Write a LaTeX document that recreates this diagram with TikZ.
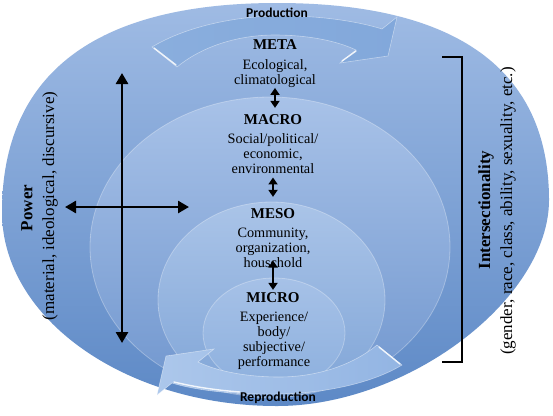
\documentclass[tikz,border=0pt]{standalone}
\usepackage{fontspec}
\setmainfont{Liberation Serif}
\newfontfamily\calib{Carlito}
\usetikzlibrary{arrows.meta}
\definecolor{outtop}{HTML}{9FBBE4}
\definecolor{outbot}{HTML}{5D89C6}
\definecolor{matop}{HTML}{A8C2E8}
\definecolor{mabot}{HTML}{7096CE}
\definecolor{metop}{HTML}{AAC4E8}
\definecolor{mebot}{HTML}{80A5D7}
\definecolor{mitop}{HTML}{A6C1E7}
\definecolor{mibot}{HTML}{8DB0DE}
\definecolor{arlight}{HTML}{B3CCED}
\definecolor{aredge}{HTML}{8AAEDD}
\definecolor{ardark}{HTML}{82A8DB}
\definecolor{rplight}{HTML}{ACC7EB}
\definecolor{rpdark}{HTML}{93B5E3}
\begin{document}
\begin{tikzpicture}[x=1pt,y=-1pt,
  title/.style={font=\fontsize{15}{15}\selectfont\bfseries, inner sep=0pt, anchor=base},
  desc/.style={font=\fontsize{14.3}{15}\selectfont, align=center, inner sep=0pt, anchor=north},
  lvarrow/.style={line width=2.2pt, {Triangle[width=9pt,length=7pt]}-{Triangle[width=9pt,length=7pt]}},
  pwarrow/.style={line width=2.6pt, {Triangle[width=12pt,length=11pt]}-{Triangle[width=12pt,length=11pt]}},
  cyc/.style={font=\calib\bfseries\fontsize{13.5}{14}\selectfont, inner sep=0pt},
  side/.style={font=\fontsize{17}{18}\selectfont, rotate=90, inner sep=0pt},
  sideb/.style={font=\fontsize{17}{18}\selectfont\bfseries, rotate=90, inner sep=0pt},
  rim/.style={draw=white, draw opacity=0.3, line width=0.8pt},
  hilite/.style={white, line width=1.4pt, opacity=0.85, line cap=round},
  bracketline/.style={line width=2.6pt, line join=miter}
]
\useasboundingbox (0,0) rectangle (553,415);
\fill[white] (0,0) rectangle (553,415);

% outer egg-shaped ellipse
\shade[top color=outtop, bottom color=outbot]
  (549,200) .. controls (549,70) and (457,3) .. (277,3)
  .. controls (95,3) and (2,74) .. (2,212)
  .. controls (2,319) and (126,406) .. (277,406)
  .. controls (408,406) and (549,299) .. (549,200) -- cycle;

% nested levels
\shade[top color=matop, bottom color=mabot, rim] (270,247) ellipse [x radius=180, y radius=150];
\shade[top color=metop, bottom color=mebot, rim] (271.5,300) ellipse [x radius=113.5, y radius=98];
\shade[top color=mitop, bottom color=mibot, rim] (274,333) ellipse [x radius=71, y radius=55];

% production arrow
\shade[left color=aredge, middle color=arlight, right color=ardark, draw=white, draw opacity=0.45, line width=0.6pt]
  (152,47) .. controls (180,30) and (225,17) .. (275,16)
  .. controls (320,15) and (360,22) .. (382,29) -- (397,17) -- (388,56) -- (340,63) -- (356,50)
  .. controls (335,40) and (305,35) .. (275,35)
  .. controls (235,35) and (200,48) .. (177,67) -- cycle;
\draw[hilite] (154,48) -- (176,65);
\draw[hilite] (342,61) -- (356,51);
% reproduction arrow
\shade[left color=rplight, right color=rpdark, draw=white, draw opacity=0.45, line width=0.6pt]
  (402,365) .. controls (374,382) and (329,393) .. (279,394)
  .. controls (234,395) and (194,390) .. (172,383) -- (157,395) -- (166,356) -- (214,349) -- (198,362)
  .. controls (219,372) and (249,377) .. (279,377)
  .. controls (319,377) and (354,364) .. (377,345) -- cycle;
\draw[hilite] (174,382) .. controls (195,387) and (215,390) .. (240,392);
\draw[hilite] (379,347) -- (400,364);

% cycle labels
\node[cyc] (prod) at (277,13) {Production};
\node[cyc] (repr) at (278,398) {Reproduction};

% levels
\node[title] (meta) at (275,49) {META};
\node[desc] (metad) at (275,59) {Ecological,\\climatological};
\node[title] (macro) at (273,124) {MACRO};
\node[desc] (macrod) at (273,133) {Social/political/\\economic,\\environmental};
\node[title] (meso) at (273,218) {MESO};
\node[desc] (mesod) at (273,227.5) {Community,\\organization,\\houschold};
\node[title] (micro) at (273,302) {MICRO};
\node[desc] (microd) at (274,311.5) {Experience/\\body/\\subjective/\\performance};

\draw[lvarrow, shorten <=0.5pt, shorten >=6pt] (metad.south) -- (metad.south |- macro.north);
\draw[lvarrow, shorten <=4pt, shorten >=11pt] (macrod.south) -- (macrod.south |- meso.north);
\draw[lvarrow, shorten <=-7pt, shorten >=2pt] (mesod.south) -- (mesod.south |- micro.north);

% power cross
\coordinate (pvt) at (122,73);
\coordinate (pvb) at (122,343);
\coordinate (phl) at (65,207);
\coordinate (phr) at (189,207);
\draw[pwarrow] (pvt) -- (pvb);
\draw[pwarrow] (phl) -- (phr);

% intersectionality bracket
\coordinate (bt) at (442,57);
\coordinate (bb) at (442,362);
\draw[bracketline] (bt) -- (bt -| 462,0) -- (bb -| 462,0) -- (bb);

% side labels
\node[sideb] (power) at (27,208) {Power};
\node[side] (powerd) at (50,206) {(material, ideological, discursive)};
\node[sideb] (inter) at (486,210) {Intersectionality};
\node[side] (interd) at (508,211) {(gender, race, class, ability, sexuality, etc.)};
\end{tikzpicture}
\end{document}
